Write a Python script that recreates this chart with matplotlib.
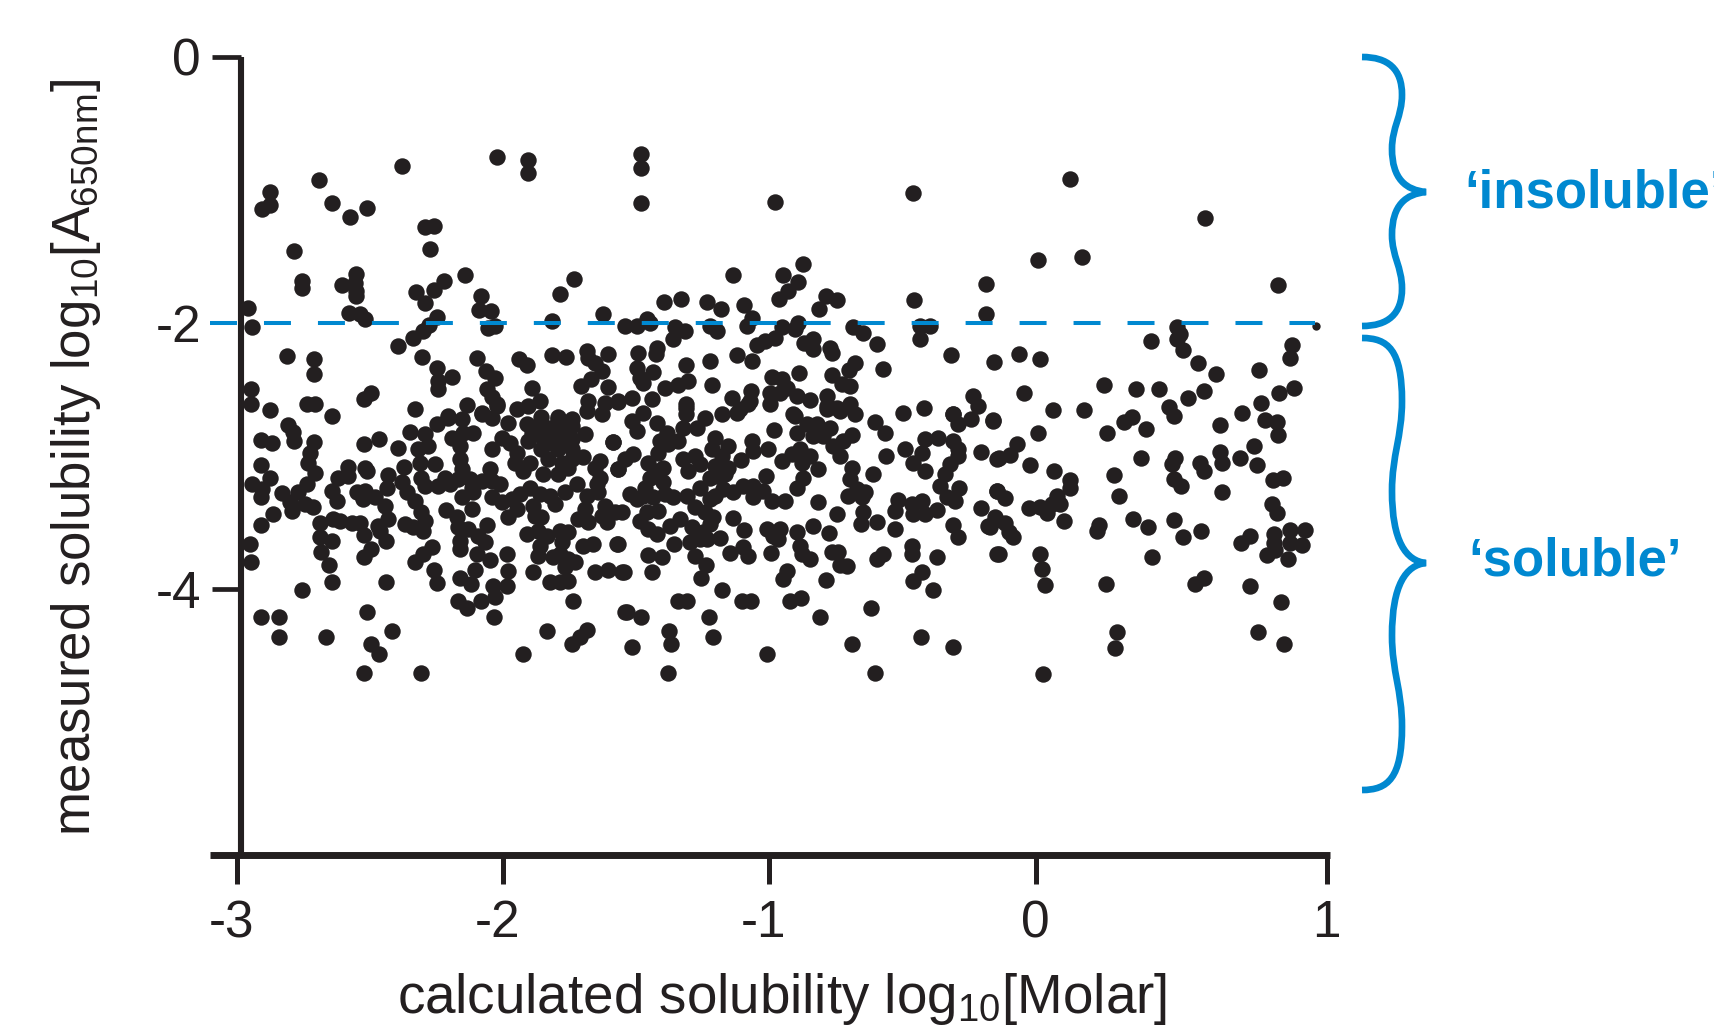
import numpy as np
import matplotlib
matplotlib.use('Agg')
import matplotlib.pyplot as plt
from matplotlib.patches import PathPatch, Rectangle
from matplotlib.path import Path
from matplotlib.transforms import ScaledTranslation

plt.rcParams['font.family'] = ['Liberation Sans', 'DejaVu Sans']
plt.rcParams['mathtext.fontset'] = 'custom'
plt.rcParams['mathtext.rm'] = 'Liberation Sans'
plt.rcParams['mathtext.default'] = 'rm'

BLACK = '#231f20'
BLUE = '#0088d0'

x_ticks = [-3, -2, -1, 0, 1.094]
x_tick_labels = ['-3', '-2', '-1', '0', '1']
y_ticks = [0, -2, -4]
y_tick_labels = ['0', '-2', '-4']
cutoff = -2

# points, (calculated, measured)
left_upper = [
    (-2.026,-0.753),(-1.909,-0.778),(-1.909,-0.873),(-2.383,-0.823),(-2.692,-0.923),(-2.878,-1.018),(-2.878,-1.11),
    (-2.909,-1.14),(-2.646,-1.098),(-2.511,-1.135),(-2.577,-1.203),(-2.295,-1.278),(-2.26,-1.268),(-2.277,-1.44),
    (-2.786,-1.46),(-2.759,-1.685),(-2.759,-1.735),(-2.556,-1.63),(-2.606,-1.715),(-2.558,-1.70),(-2.556,-1.76),
    (-2.556,-1.80),(-2.145,-1.64),(-2.222,-1.685),(-2.26,-1.755),(-2.33,-1.765),(-2.293,-1.85),(-1.735,-1.668),
    (-1.788,-1.78),(-2.085,-1.798),(-2.092,-1.905),(-2.047,-1.913),(-2.962,-1.89),(-2.581,-1.923),(-2.54,-1.935),
    (-2.521,-1.973),(-2.251,-1.955),(-1.819,-1.985),(-1.625,-1.93),(-1.543,-2.023),(-2.947,-2.03),(-2.032,-2.023),
    (-2.057,-2.035),(-2.28,-2.018),(-2.301,-2.06),(-2.339,-2.11),(-2.395,-2.173),(-2.305,-2.253),(-2.813,-2.248),
    (-2.711,-2.268),(-2.711,-2.386),(-2.098,-2.26),(-1.942,-2.273),(-1.913,-2.315),(-1.816,-2.243),(-1.766,-2.256),
    (-1.687,-2.21),(-1.681,-2.26),(-1.606,-2.23),(-1.656,-2.30),(-1.631,-2.36),(-1.669,-2.423),(-1.709,-2.473),
    (-2.251,-2.335),(-2.195,-2.405),(-2.245,-2.435),(-2.245,-2.498),(-2.067,-2.36),(-2.032,-2.41),(-2.063,-2.498),
    (-2.044,-2.56),(-2.026,-2.623),(-1.894,-2.49),(-1.608,-2.48),(-2.496,-2.523),(-2.523,-2.573),(-2.949,-2.493),
    (-2.949,-2.61),(-2.878,-2.653),(-2.74,-2.61),(-2.709,-2.61),(-2.333,-2.648),(-2.138,-2.615),(-1.863,-2.585),
    (-1.907,-2.623),(-1.95,-2.648),(-1.681,-2.585),(-1.687,-2.66),(-1.618,-2.6),(-1.568,-2.585),(-1.631,-2.685),
    (-2.646,-2.7),(-2.082,-2.685),(-2.207,-2.7),(-1.857,-2.71),(-1.794,-2.71),(-1.744,-2.72),
]

left_lower = [
    (-2.811,-2.769),(-2.79,-2.819),(-2.786,-2.887),(-2.912,-2.879),(-2.869,-2.904),(-2.711,-2.892),(-2.727,-2.974),
    (-2.734,-3.049),(-2.709,-3.129),(-2.523,-2.912),(-2.468,-2.874),(-2.395,-2.937),(-2.373,-3.082),(-2.912,-3.067),
    (-2.878,-3.167),(-2.947,-3.212),(-2.909,-3.249),(-2.912,-3.312),(-2.586,-3.082),(-2.623,-3.162),(-2.521,-3.087),
    (-2.511,-3.112),(-2.583,-3.149),(-2.74,-3.212),(-2.771,-3.274),(-2.834,-3.279),(-2.803,-3.349),(-2.796,-3.412),
    (-2.746,-3.362),(-2.715,-3.387),(-2.865,-3.437),(-2.912,-3.517),(-2.646,-3.262),(-2.627,-3.337),(-2.552,-3.269),
    (-2.521,-3.262),(-2.527,-3.324),(-2.483,-3.312),(-2.433,-3.144),(-2.439,-3.237),(-2.383,-3.194),(-2.364,-3.274),
    (-2.333,-3.337),(-2.308,-3.424),(-2.295,-3.487),(-2.446,-3.374),(-2.433,-3.474),(-2.47,-3.524),(-2.464,-3.562),
    (-2.443,-3.636),(-2.37,-3.512),(-2.339,-3.537),(-2.301,-3.562),(-2.69,-3.504),(-2.64,-3.474),(-2.615,-3.487),
    (-2.571,-3.504),(-2.54,-3.504),(-2.524,-3.594),(-2.69,-3.612),(-2.646,-3.637),(-2.684,-3.724),(-2.656,-3.819),
    (-2.643,-3.949),(-2.759,-4.004),(-2.443,-3.949),(-2.952,-3.662),(-2.949,-3.799),(-2.496,-3.699),(-2.523,-3.757),
    (-2.27,-3.682),(-2.301,-3.737),(-2.333,-3.799),(-2.26,-3.857),(-2.251,-3.954),(-2.063,-3.519),(-2.217,-3.404),
    (-2.176,-3.462),(-2.17,-3.537),(-2.132,-3.549),(-2.095,-3.599),(-2.07,-3.649),(-2.164,-3.637),(-2.164,-3.699),
    (-2.101,-3.737),(-2.051,-3.779),(-1.988,-3.737),(-2.107,-3.854),(-2.163,-3.919),(-2.123,-3.962),(-1.984,-3.862),
    (-1.988,-3.974),(-2.038,-3.974),(-2.032,-4.062),(-2.086,-4.092),(-2.17,-4.087),(-2.136,-4.144),(-2.034,-4.207),
    (-2.912,-4.207),(-2.844,-4.207),(-2.844,-4.364),(-2.667,-4.364),(-2.511,-4.174),(-2.418,-4.317),(-2.496,-4.412),
    (-2.467,-4.487),(-2.523,-4.632),(-2.308,-4.632),(-1.737,-4.092),(-1.838,-4.317),(-1.925,-4.487),(-1.687,-4.312),
    (-1.712,-4.362),(-1.744,-4.412),(-1.888,-3.874),(-1.825,-3.949),(-1.788,-3.949),(-1.756,-3.937),(-1.656,-3.874),
    (-1.608,-3.857),(-1.556,-3.874),(-1.543,-4.174),(-1.587,-2.894),(-1.571,-3.662),(-1.662,-3.662),
]

left_dense = [
    (-2.351,-2.817),(-2.295,-2.837),(-2.251,-2.762),(-2.207,-2.712),(-2.157,-2.724),(-2.113,-2.824),(-2.195,-2.862),
    (-2.151,-2.824),(-2.32,-2.949),(-2.314,-3.049),(-2.308,-3.162),(-2.295,-3.224),(-2.257,-3.062),(-2.245,-3.224),
    (-2.283,-2.924),(-2.164,-2.924),(-2.164,-3.024),(-2.157,-3.099),(-2.17,-3.174),(-2.126,-3.174),(-2.12,-3.237),
    (-2.082,-3.187),(-2.051,-3.099),(-2.044,-3.187),(-2.013,-3.212),(-2.22,-3.162),(-2.201,-3.212),(-2.157,-3.312),
    (-2.12,-3.399),(-2.113,-3.274),(-2.082,-2.674),(-2.044,-2.712),(-1.982,-2.749),(-2.026,-2.612),(-2.007,-2.862),
    (-2.044,-2.949),(-1.976,-2.899),(-1.95,-2.974),(-1.957,-3.049),(-1.925,-3.112),(-1.9,-3.049),(-1.913,-2.762),
    (-1.894,-2.824),(-1.857,-2.749),(-1.794,-2.724),(-1.744,-2.774),(-1.694,-2.837),(-1.857,-2.849),(-1.794,-2.837),
    (-1.744,-2.874),(-1.907,-2.887),(-1.857,-2.949),(-1.794,-2.949),(-1.744,-2.949),(-1.831,-3.024),(-1.781,-3.049),
    (-1.825,-2.787),(-1.769,-2.787),(-1.824,-2.899),(-1.769,-2.899),(-1.7,-3.004),(-1.744,-3.024),(-1.637,-3.037),
    (-1.656,-3.087),(-1.568,-3.099),(-1.637,-3.162),(-1.65,-3.212),(-1.85,-3.137),(-1.794,-3.137),(-1.756,-3.087),
    (-1.9,-3.237),(-1.938,-3.287),(-1.969,-3.324),(-2.007,-3.349),(-2.044,-3.312),(-1.982,-3.462),(-1.95,-3.399),
    (-1.863,-3.287),(-1.825,-3.299),(-1.806,-3.362),(-1.769,-3.274),(-1.725,-3.212),(-1.888,-3.374),(-1.882,-3.449),
    (-1.857,-3.462),(-1.687,-3.299),(-1.643,-3.274),(-1.618,-3.374),(-1.694,-3.399),(-1.719,-3.474),(-1.681,-3.499),
    (-1.631,-3.449),(-1.581,-3.424),(-1.556,-3.424),(-1.612,-3.499),(-1.913,-3.587),(-1.869,-3.562),(-1.838,-3.599),
    (-1.863,-3.674),(-1.869,-3.749),(-1.788,-3.562),(-1.756,-3.574),(-1.781,-3.649),(-1.788,-3.737),(-1.813,-3.762),
    (-1.756,-3.774),(-1.731,-3.799),(-1.7,-3.674),(-1.769,-3.837),
]

mid_upper = [
    (-1.484,-0.728),(-1.484,-0.836),(-1.484,-1.098),(-0.979,-1.093),(-0.462,-1.023),(-1.136,-1.636),(-0.875,-1.556),
    (-0.948,-1.636),(-0.891,-1.691),(-0.929,-1.761),(-0.964,-1.816),(-1.396,-1.84),(-1.334,-1.818),(-1.233,-1.84),
    (-1.182,-1.893),(-1.094,-1.866),(-0.787,-1.798),(-0.747,-1.828),(-0.812,-1.898),(-0.457,-1.828),(-0.187,-1.706),
    (-0.186,-1.93),(-1.462,-1.973),(-1.449,-2.003),(-1.499,-2.023),(-1.355,-2.028),(-1.317,-2.06),(-1.361,-2.123),
    (-1.223,-2.023),(-1.198,-2.06),(-1.067,-1.96),(-1.086,-2.023),(-0.891,-1.998),(-0.904,-2.048),(-0.954,-2.028),
    (-0.979,-2.11),(-1.017,-2.136),(-1.048,-2.168),(-0.685,-2.028),(-0.647,-2.078),(-0.597,-2.156),(-0.434,-2.023),
    (-0.396,-2.023),(-0.434,-2.123),(-0.319,-2.241),(-0.156,-2.293),(-0.87,-2.153),(-0.838,-2.123),(-0.838,-2.198),
    (-0.772,-2.186),(-0.766,-2.223),(-0.678,-2.303),(-0.7,-2.353),(-0.572,-2.348),(-0.766,-2.391),(-0.729,-2.461),
    (-0.697,-2.473),(-0.889,-2.373),(-1.121,-2.241),(-1.064,-2.286),(-1.223,-2.286),(-1.315,-2.316),(-1.495,-2.228),
    (-1.424,-2.186),(-1.426,-2.236),(-1.499,-2.336),(-1.487,-2.411),(-1.437,-2.366),(-1.474,-2.448),(-1.305,-2.436),
    (-1.343,-2.468),(-1.393,-2.486),(-1.215,-2.466),(-1.443,-2.573),(-1.518,-2.566),(-1.568,-2.591),(-0.992,-2.403),
    (-0.954,-2.423),(-0.935,-2.486),(-0.998,-2.523),(-0.898,-2.548),(-0.998,-2.611),(-0.847,-2.578),(-0.96,-2.523),
    (-1.071,-2.511),(-1.142,-2.561),(-1.073,-2.586),(-1.11,-2.648),(-0.785,-2.548),(-0.785,-2.623),(-0.747,-2.636),
    (-0.697,-2.611),(-0.497,-2.673),(-0.419,-2.636),(-0.236,-2.548),(-0.215,-2.623),(-1.314,-2.611),(-0.91,-2.686),
    (-1.474,-2.673),(-0.309,-2.686),
]

mid_lower = [
    (-1.518,-2.737),(-1.499,-2.812),(-1.587,-2.894),(-1.421,-2.754),(-1.386,-2.824),(-1.411,-2.887),(-1.418,-2.974),
    (-1.324,-2.787),(-1.274,-2.787),(-1.242,-2.712),(-1.342,-2.887),(-1.38,-2.912),(-1.314,-2.637),(-1.314,-2.687),
    (-1.18,-2.687),(-1.123,-2.674),(-1.079,-2.611),(-1.205,-2.862),(-1.155,-2.924),(-1.217,-2.949),(-1.18,-2.999),
    (-1.067,-2.887),(-1.004,-2.949),(-1.061,-2.962),(-1.108,-3.029),(-0.983,-2.807),(-0.904,-2.699),(-0.898,-2.824),
    (-0.86,-2.762),(-0.822,-2.762),(-0.772,-2.787),(-0.835,-2.849),(-0.797,-2.849),(-0.688,-2.844),(-0.722,-2.887),
    (-0.76,-2.924),(-0.735,-2.999),(-0.678,-2.687),(-0.735,-2.662),(-0.785,-2.649),(-0.603,-2.744),(-0.565,-2.824),
    (-0.49,-2.949),(-0.563,-2.999),(-0.309,-2.687),(-0.29,-2.762),(-0.244,-2.719),(-0.158,-2.729),(-0.415,-2.874),
    (-0.365,-2.862),(-0.309,-2.887),(-0.29,-2.949),(-0.29,-2.999),(-0.428,-2.974),(-0.459,-3.049),(-0.415,-3.112),
    (-0.321,-3.062),(-0.34,-3.137),(-0.359,-3.224),(-0.286,-3.237),(-0.334,-3.312),(-0.302,-3.337),(-0.206,-2.969),
    (-0.146,-3.019),(-0.146,-3.262),(-0.206,-3.392),(-0.152,-3.462),(-0.177,-3.529),(-0.146,-3.737),(-0.609,-3.137),
    (-0.691,-3.087),(-0.697,-3.174),(-0.672,-3.249),(-0.641,-3.274),(-0.703,-3.299),(-0.653,-3.312),(-0.647,-3.424),
    (-0.657,-3.512),(-0.597,-3.499),(-0.515,-3.329),(-0.528,-3.417),(-0.528,-3.549),(-0.465,-3.362),(-0.428,-3.337),
    (-0.459,-3.437),(-0.415,-3.437),(-0.371,-3.407),(-0.309,-3.519),(-0.29,-3.612),(-0.465,-3.674),(-0.465,-3.737),
    (-0.371,-3.757),(-0.572,-3.737),(-0.597,-3.774),(-0.428,-3.869),(-0.459,-3.937),(-0.384,-4.004),(-0.618,-4.144),
    (-0.43,-4.362),(-0.688,-4.412),(-0.311,-4.437),(-0.603,-4.632),(-0.816,-3.349),(-0.747,-3.437),(-1.136,-3.467),
    (-1.094,-3.554),(-0.835,-3.529),(-0.898,-3.569),(-0.775,-3.579),(-1.01,-3.549),(-0.985,-3.599),(-0.96,-3.549),
    (-0.967,-3.624),(-0.885,-3.674),(-0.879,-3.737),(-0.847,-3.774),(-0.764,-3.724),(-0.741,-3.724),(-0.735,-3.817),
    (-0.71,-3.824),(-0.787,-3.932),(-0.935,-3.862),(-0.95,-3.924),(-0.995,-3.732),(-1.098,-3.687),(-1.079,-3.749),
    (-1.148,-3.729),(-1.18,-4.004),(-1.343,-4.092),(-1.309,-4.092),(-1.104,-4.092),(-1.071,-4.092),(-0.923,-4.092),
    (-0.881,-4.067),(-0.81,-4.207),(-1.227,-4.207),(-1.211,-4.362),(-1.534,-4.174),(-1.484,-4.207),(-1.376,-4.317),
    (-1.37,-4.412),(-1.515,-4.437),(-1.01,-4.487),(-1.38,-4.632),(-1.572,-3.662),(-1.458,-3.742),(-1.405,-3.757),
    (-1.546,-3.874),(-1.443,-3.874),(-1.257,-3.919),(-1.239,-3.817),(-1.28,-3.749),(-1.299,-3.649),(-1.186,-3.617),
    (-1.359,-3.662),(-1.261,-3.624),(-1.236,-3.624),
]

mid_dense = [
    (-1.223,-3.512),(-1.211,-3.462),(-1.242,-3.424),(-1.28,-3.387),(-1.249,-3.574),(-1.292,-3.537),(-1.336,-3.474),
    (-1.374,-3.524),(-1.424,-3.587),(-1.455,-3.549),(-1.487,-3.487),(-1.418,-3.412),(-1.462,-3.424),(-1.524,-3.287),
    (-1.499,-3.324),(-1.474,-3.299),(-1.437,-3.312),(-1.468,-3.237),(-1.455,-3.049),(-1.43,-3.112),(-1.449,-3.162),
    (-1.399,-3.087),(-1.399,-3.199),(-1.393,-3.287),(-1.361,-3.312),(-1.311,-3.299),(-1.261,-3.237),(-1.223,-3.324),
    (-1.205,-3.299),(-1.173,-3.249),(-1.136,-3.274),(-1.098,-3.224),(-1.061,-3.224),(-1.061,-3.312),(-1.023,-3.262),
    (-0.992,-3.337),(-0.942,-3.337),(-0.898,-3.237),(-1.014,-3.149),(-0.873,-3.162),(-0.916,-2.987),(-0.885,-2.949),
    (-0.847,-2.999),(-0.816,-3.099),(-0.879,-3.049),(-0.954,-3.037),(-1.324,-3.024),(-1.28,-2.999),(-1.305,-3.112),
    (-1.261,-3.062),(-1.198,-3.149),(-1.223,-3.162),(-1.167,-3.137),(-1.155,-3.087),(-1.205,-3.074),(-1.512,-2.987),
    (-1.543,-3.024),(-1.568,-3.099),
]

right_pts = [
    (0.128,-0.918),(0.638,-1.213),(0.008,-1.526),(0.174,-1.502),(0.911,-1.717),(0.531,-2.03),(0.544,-2.084),
    (0.531,-2.124),(0.556,-2.205),(0.435,-2.138),(0.609,-2.299),(0.677,-2.384),(0.964,-2.165),(0.955,-2.264),
    (0.841,-2.352),(-0.061,-2.232),(0.018,-2.272),(0.258,-2.465),(0.377,-2.494),(0.465,-2.494),(0.635,-2.508),
    (0.573,-2.561),(0.5,-2.634),(0.519,-2.701),(0.914,-2.526),(0.97,-2.492),(0.848,-2.601),(0.776,-2.679),
    (0.863,-2.733),(0.907,-2.741),(0.911,-2.84),(0.694,-2.768),(-0.045,-2.526),(0.064,-2.655),(0.184,-2.655),
    (-0.158,-2.736),(0.009,-2.827),(0.362,-2.709),(0.331,-2.741),(0.415,-2.8),(0.268,-2.827),(-0.07,-2.91),
    (-0.095,-2.996),(-0.139,-3.017),(-0.02,-3.068),(0.068,-3.116),(0.128,-3.183),(0.13,-3.237),(0.08,-3.304),
    (0.061,-3.358),(0.093,-3.358),(0.043,-3.425),(0.018,-3.385),(-0.023,-3.393),(0.108,-3.486),(0.397,-3.017),
    (0.525,-3.017),(0.513,-3.057),(0.619,-3.049),(0.634,-3.116),(0.694,-2.969),(0.7,-3.049),(0.769,-3.014),
    (0.822,-2.923),(0.832,-3.071),(0.891,-3.178),(0.93,-3.165),(0.296,-3.143),(0.312,-3.299),(0.519,-3.17),
    (0.548,-3.224),(0.7,-3.269),(0.889,-3.358),(0.907,-3.425),(-0.143,-3.264),(-0.114,-3.317),(-0.152,-3.478),
    (-0.17,-3.532),(-0.114,-3.505),(-0.101,-3.572),(-0.085,-3.612),(-0.139,-3.738),(0.018,-3.738),(0.024,-3.848),
    (0.034,-3.969),(0.239,-3.519),(0.231,-3.564),(0.365,-3.47),(0.422,-3.532),(0.521,-3.478),(0.556,-3.612),
    (0.622,-3.567),(0.437,-3.76),(0.264,-3.961),(0.6,-3.961),(0.634,-3.92),(0.805,-3.974),(0.922,-4.095),
    (0.805,-3.599),(0.772,-3.653),(0.895,-3.585),(0.895,-3.653),(0.87,-3.746),(0.901,-3.706),(0.957,-3.559),
    (1.014,-3.553),(1.001,-3.666),(0.957,-3.653),(0.951,-3.773),(0.308,-4.323),(0.297,-4.443),(0.835,-4.323),
    (0.935,-4.417),(0.03,-4.636),
]

small_pts = [(1.053,-2.025)]


def brace_path(top, tip, bot):
    # curly brace in figure pixels, y running down
    x0, xa, xw, xt = 1362, 1402, 1392, 1426
    ya = top + 0.28 * (tip - top)
    yw = top + 0.68 * (tip - top)
    yb = bot - 0.28 * (bot - tip)
    yv = bot - 0.68 * (bot - tip)
    verts = [(x0, top), (1388, top), (xa, top + 12), (xa, ya),
             (xa, ya + 0.4 * (yw - ya)), (xw, yw - 0.4 * (yw - ya)), (xw, yw),
             (xw, yw + 0.7 * (tip - yw)), (xt - 20, tip - 2), (xt, tip),
             (xt - 20, tip + 2), (xw, yv - 0.7 * (yv - tip)), (xw, yv),
             (xw, yv + 0.4 * (yb - yv)), (xa, yb - 0.4 * (yb - yv)), (xa, yb),
             (xa, bot - 12), (1388, bot), (x0, bot)]
    codes = [Path.MOVETO] + [Path.CURVE4] * (len(verts) - 1)
    return Path([(x / 1715, 1 - y / 1025) for x, y in verts], codes)


fig = plt.figure(figsize=(17.15, 10.25), dpi=100)
ax = fig.add_axes([210 / 1715, 1 - 855 / 1025, 1120 / 1715, 798 / 1025])
ax.set_xlim(-3.103, 1.107)
ax.set_ylim(-6, 0)

pts = np.array(left_upper + left_lower + left_dense + mid_upper + mid_lower + mid_dense + right_pts)
dots = ax.scatter(pts[:, 0], pts[:, 1], s=140, color=BLACK, linewidths=0, zorder=2)
dots.set_clip_path(Rectangle((-2.985, -6), 4.2, 6, transform=ax.transData))
small = np.array(small_pts)
ax.scatter(small[:, 0], small[:, 1], s=36, color=BLACK, linewidths=0, zorder=2)

ax.plot([-3.103, 1.051], [cutoff, cutoff], color=BLUE, lw=2.9, dashes=(6.7, 6.7),
        dash_capstyle='butt', zorder=3)

ax.spines['top'].set_visible(False)
ax.spines['right'].set_visible(False)
ax.spines['left'].set_position(('data', -2.985))
ax.spines['left'].set_linewidth(4.4)
ax.spines['left'].set_color(BLACK)
ax.spines['left'].set_capstyle('butt')
ax.spines['bottom'].set_linewidth(5)
ax.spines['bottom'].set_color(BLACK)
ax.spines['bottom'].set_capstyle('butt')

ax.set_xticks(x_ticks)
ax.set_xticklabels(x_tick_labels)
ax.set_yticks(y_ticks)
ax.set_yticklabels(y_tick_labels)
ax.tick_params(axis='x', length=21, width=3.6, color=BLACK, labelcolor=BLACK, labelsize=37, pad=11)
ax.tick_params(axis='y', length=21, width=3.4, color=BLACK, labelcolor=BLACK, labelsize=37, pad=8)
ax.yaxis.get_major_ticks()[1].tick1line.set_visible(False)
# the minus signs hang left of the tick in the original
for lab in ax.get_xticklabels()[:3]:
    lab.set_transform(lab.get_transform() + ScaledTranslation(-0.06, 0, fig.dpi_scale_trans))

fig.text(782 / 1715, 1 - 1013 / 1025, 'calculated solubility log$_{10}$[Molar]', fontsize=39.4,
         color=BLACK, ha='center', va='baseline')
fig.text(90 / 1715, 1 - 457 / 1025, 'measured solubility log$_{10}$[A$_{650nm}$]', fontsize=38,
         color=BLACK, ha='center', va='baseline', rotation=90, rotation_mode='anchor')

for top, tip, bot in [(57, 192, 326), (338, 563, 790)]:
    fig.add_artist(PathPatch(brace_path(top, tip, bot), transform=fig.transFigure, fill=False,
                             edgecolor=BLUE, lw=4.8, capstyle='butt'))

fig.text(1464 / 1715, 1 - 207 / 1025, '\u2018insoluble\u2019', fontsize=38, fontweight='bold', color=BLUE,
         ha='left', va='baseline')
fig.text(1468 / 1715, 1 - 575 / 1025, '\u2018soluble\u2019', fontsize=38, fontweight='bold', color=BLUE,
         ha='left', va='baseline')

fig.savefig('out.png', dpi=100)
